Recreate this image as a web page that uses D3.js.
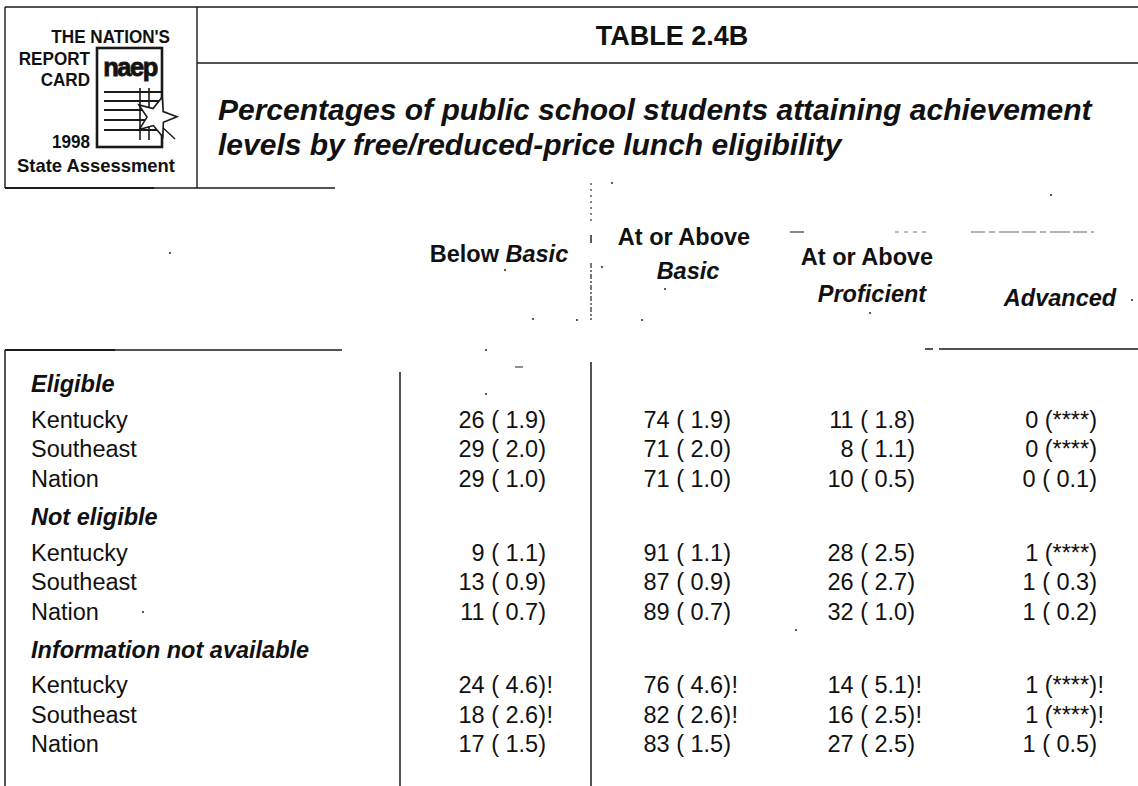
<!DOCTYPE html>
<html>
<head>
<meta charset="utf-8">
<script src="https://cdn.jsdelivr.net/npm/d3@7/dist/d3.min.js"></script>
<style>
  html, body { margin: 0; padding: 0; background: #fff; }
  svg { display: block; }
  text { font-family: "Liberation Sans", Arial, Helvetica, sans-serif; fill: #111; }
</style>
</head>
<body>
<div id="chart"></div>
<script>
// ---------- DATA ----------
const groups = ["Eligible", "Not eligible", "Information not available"];
const jurisdictions = ["Kentucky", "Southeast", "Nation"];
const columnKeys = ["belowBasic", "atBasic", "proficient", "advanced"];

const belowBasic   = [26, 29, 29, 9, 13, 11, 24, 18, 17];
const belowBasicSE = ["1.9", "2.0", "1.0", "1.1", "0.9", "0.7", "4.6", "2.6", "1.5"];
const atBasic      = [74, 71, 71, 91, 87, 89, 76, 82, 83];
const atBasicSE    = ["1.9", "2.0", "1.0", "1.1", "0.9", "0.7", "4.6", "2.6", "1.5"];
const proficient   = [11, 8, 10, 28, 26, 32, 14, 16, 27];
const proficientSE = ["1.8", "1.1", "0.5", "2.5", "2.7", "1.0", "5.1", "2.5", "2.5"];
const advanced     = [0, 0, 0, 1, 1, 1, 1, 1, 1];
const advancedSE   = ["****", "****", "0.1", "****", "0.3", "0.2", "****", "****", "0.5"];
const flagged      = [false, false, false, false, false, false, true, true, false];

const logoLines = ["THE  NATION'S", "REPORT", "CARD", "1998", "State Assessment"];
const tableNumber = "TABLE 2.4B";
const titleLines = [
  "Percentages of public school students attaining achievement",
  "levels by free/reduced-price lunch eligibility"
];

// ---------- LAYOUT ----------
const W = 1138, H = 786;
const svg = d3.select("#chart").append("svg").attr("width", W).attr("height", H);
const ink = "#1a1a1a";

function hline(x1, x2, y, w = 1.5, col = ink, dash = null) {
  const l = svg.append("line").attr("x1", x1).attr("x2", x2).attr("y1", y).attr("y2", y)
    .attr("stroke", col).attr("stroke-width", w);
  if (dash) l.attr("stroke-dasharray", dash);
  return l;
}
function vline(x, y1, y2, w = 1.5, col = ink, dash = null) {
  const l = svg.append("line").attr("x1", x).attr("x2", x).attr("y1", y1).attr("y2", y2)
    .attr("stroke", col).attr("stroke-width", w);
  if (dash) l.attr("stroke-dasharray", dash);
  return l;
}
function speck(x, yy, r = 1) {
  svg.append("circle").attr("cx", x).attr("cy", yy).attr("r", r).attr("fill", "#333");
}

// Header frame
hline(5, W, 7, 1.6);
vline(5, 7, 188, 1.4);
vline(197, 7, 188, 1.4);
hline(197, W, 63, 1.5);
hline(5, 154, 188, 1.9);
hline(154, 335, 188, 1.3);

// Logo text (condensed bold)
const logoPos = [
  { x: 170, y: 43, a: "end", s: 0.9 },
  { x: 90, y: 65, a: "end", s: 0.9 },
  { x: 90, y: 86, a: "end", s: 0.9 },
  { x: 90, y: 148, a: "end", s: 0.9 },
  { x: 96, y: 172, a: "middle", s: 0.97 }
];
logoLines.forEach((t, i) => {
  const p = logoPos[i];
  svg.append("text")
    .attr("transform", `translate(${p.x},${p.y}) scale(${p.s},1)`)
    .attr("text-anchor", p.a)
    .attr("font-weight", "bold")
    .attr("font-size", 19)
    .text(t);
});

// Logo graphic (report card with star)
const logo = svg.append("g");
logo.append("rect").attr("x", 97).attr("y", 48).attr("width", 65).attr("height", 99)
  .attr("fill", "#fff").attr("stroke", ink).attr("stroke-width", 2.6);
logo.append("text").attr("transform", "translate(130,76) scale(0.98,1)")
  .attr("text-anchor", "middle").attr("font-weight", "900").attr("font-size", 26)
  .attr("stroke", ink).attr("stroke-width", 0.9)
  .style("letter-spacing", "-1.5px").text("naep");
[92, 101, 110, 120, 130].forEach(yy => {
  logo.append("line").attr("x1", 104).attr("x2", 162).attr("y1", yy).attr("y2", yy)
    .attr("stroke", ink).attr("stroke-width", 2.2);
});
[140, 149].forEach(x => {
  logo.append("line").attr("x1", x).attr("x2", x).attr("y1", 88).attr("y2", 140)
    .attr("stroke", ink).attr("stroke-width", 1.6);
});
logo.append("line").attr("x1", 160).attr("y1", 125).attr("x2", 175).attr("y2", 139)
  .attr("stroke", ink).attr("stroke-width", 1.4);
const starPts = d3.range(10).map(i => {
  const ang = -Math.PI / 2 + i * Math.PI / 5 + 0.3;
  const r = i % 2 === 0 ? 21 : 9;
  return [156 + r * Math.cos(ang), 117 + r * Math.sin(ang)];
});
logo.append("polygon").attr("points", starPts.map(p => p.join(",")).join(" "))
  .attr("fill", "#fff").attr("stroke", ink).attr("stroke-width", 1.6);

// Table number & title
svg.append("text").attr("x", 672).attr("y", 45).attr("text-anchor", "middle")
  .attr("font-weight", "bold").attr("font-size", 27).text(tableNumber);
titleLines.forEach((t, i) => {
  svg.append("text").attr("x", 218).attr("y", [120, 155][i])
    .attr("font-weight", "bold").attr("font-style", "italic").attr("font-size", 30)
    .text(t);
});

// Column headers
const colX = d3.scaleOrdinal().domain(columnKeys).range([546, 731, 915, 1097]);
const headFont = 23.5;
function headerText(x, yy, parts) {
  const t = svg.append("text").attr("x", x).attr("y", yy).attr("text-anchor", "middle")
    .attr("font-weight", "bold").attr("font-size", headFont);
  parts.forEach(p => t.append("tspan").attr("font-style", p[1] ? "italic" : "normal").text(p[0]));
}
headerText(499, 262, [["Below ", false], ["Basic", true]]);
headerText(684, 245, [["At or Above", false]]);
headerText(688, 279, [["Basic", true]]);
headerText(867, 265, [["At or Above", false]]);
headerText(872, 302, [["Proficient", true]]);
headerText(1060, 306, [["Advanced", true]]);

// scan artefacts: broken dashed vertical and faint fragments
vline(591, 183, 222, 1.2, "#333", "2,4");
vline(591, 235, 243, 1.6, "#333");
vline(591, 263, 320, 1.3, "#333", "5,2,2,2");
hline(790, 804, 232, 1.4, "#555");
hline(895, 928, 232, 1.1, "#777", "4,5");
hline(971, 1094, 232, 1.2, "#666", "14,4,6,4,20,3");
[[1132, 300], [612, 183], [505, 270], [665, 289], [870, 313], [533, 319], [577, 320],
 [642, 320], [602, 267], [486, 350], [486, 394], [143, 612], [796, 630], [1051, 195],
 [170, 253]].forEach(p => speck(p[0], p[1], 1.1));
hline(515, 523, 367, 1.2, "#444");

// Body frame
hline(5, 115, 350, 1.9);
hline(115, 342, 350, 1.4);
hline(925, W, 349, 1.6, ink, "8,6,300");
vline(5, 350, H, 1.5);
vline(400, 372, H, 1.5);
vline(591, 362, H, 1.5);

// Row layout: a linear scale over "slot" units
const y = d3.scaleLinear().domain([0, 1]).range([392, 421.5]);
const slotsPerGroup = 4.5;
const rowOffset = 1.22;

const rowFont = 23.5;
groups.forEach((g, gi) => {
  const s0 = gi * slotsPerGroup;
  svg.append("text").attr("x", 31).attr("y", y(s0))
    .attr("font-weight", "bold").attr("font-style", "italic").attr("font-size", rowFont)
    .text(g);
  jurisdictions.forEach((j, ji) => {
    svg.append("text").attr("x", 31).attr("y", y(s0 + rowOffset + ji))
      .attr("font-size", rowFont).text(j);
  });
});

// Cells
const colVals = {
  belowBasic: [belowBasic, belowBasicSE],
  atBasic: [atBasic, atBasicSE],
  proficient: [proficient, proficientSE],
  advanced: [advanced, advancedSE]
};
const cells = [];
columnKeys.forEach(k => {
  const [vals, ses] = colVals[k];
  vals.forEach((v, i) => {
    cells.push({ k, i, v, se: ses[i], flag: flagged[i] });
  });
});
const rowY = i => {
  const gi = Math.floor(i / 3), ji = i % 3;
  return y(gi * slotsPerGroup + rowOffset + ji);
};
const cellG = svg.append("g");
cellG.selectAll("text.val").data(cells).enter().append("text")
  .attr("class", "val")
  .attr("x", d => colX(d.k)).attr("y", d => rowY(d.i))
  .attr("text-anchor", "end").attr("font-size", rowFont)
  .text(d => d.se === "****" ? `${d.v} (${d.se})` : `${d.v} ( ${d.se})`);
cellG.selectAll("text.flag").data(cells.filter(d => d.flag)).enter().append("text")
  .attr("class", "flag")
  .attr("x", d => colX(d.k) + 0.5).attr("y", d => rowY(d.i))
  .attr("font-size", rowFont).text("!");
</script>
</body>
</html>
